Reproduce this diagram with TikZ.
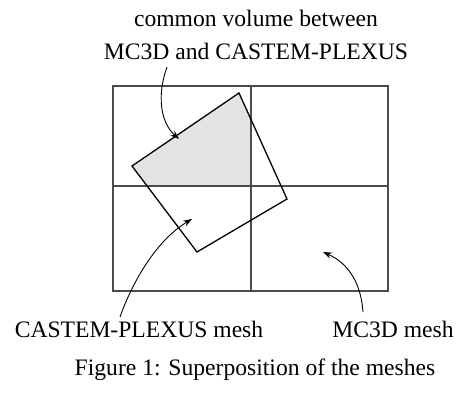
\documentclass[tikz,border=0pt]{standalone}
\usepackage{fontspec}
\setmainfont{Liberation Serif}
\usetikzlibrary{arrows.meta}
\tikzset{
	gridline/.style={draw=black!70,line width=0.55pt},
	meshline/.style={draw=black,line width=0.65pt},
	pointer/.style={draw=black,line width=0.45pt,-{Stealth[length=4.5pt,width=3.2pt,inset=1.6pt]}},
	caption/.style={font=\fontsize{11.8}{16.5}\selectfont,anchor=base,inner sep=0pt}
}
\begin{document}
\begin{tikzpicture}[x=0.5pt,y=-0.5pt]
					\useasboundingbox (0,0) rectangle (461,396);
					\coordinate (qt) at (239,93);
					\coordinate (ql) at (132,166);
					\coordinate (qb) at (197,252);
					\coordinate (qr) at (287,199);
					\fill[black!11] (ql) -- (qt) -- (251,119.5) -- (251,186) -- (147,186) -- cycle;
					\draw[gridline] (113,86) rectangle (388,291);
					\draw[gridline] (251,86) -- (251,291);
					\draw[gridline] (113,186) -- (388,186);
					\draw[meshline] (qt) -- (qr) -- (qb) -- (ql) -- cycle;
					\node[caption,align=center] (common) at (256,59) {common volume between\\MC3D and CASTEM-PLEXUS};
					\node[caption] (castem) at (139,337) {CASTEM-PLEXUS mesh};
					\node[caption] (mcmesh) at (393,337) {MC3D mesh};
					\node[caption] (figcap) at (255,375) {Figure 1: Superposition of the meshes};
					\coordinate (commontail) at (167,67);
					\coordinate (commonhead) at (179,139);
					\coordinate (castemtail) at (120,317);
					\coordinate (castemhead) at (192,219);
					\coordinate (mctail) at (363,312);
					\coordinate (mchead) at (323,252);
					\draw[pointer] (commontail) .. controls (157,95) and (160,122) .. (commonhead);
					\draw[pointer] (castemtail) .. controls (135,275) and (160,238) .. (castemhead);
					\draw[pointer] (mctail) .. controls (361,285) and (350,264) .. (mchead);
				\end{tikzpicture}
\end{document}
